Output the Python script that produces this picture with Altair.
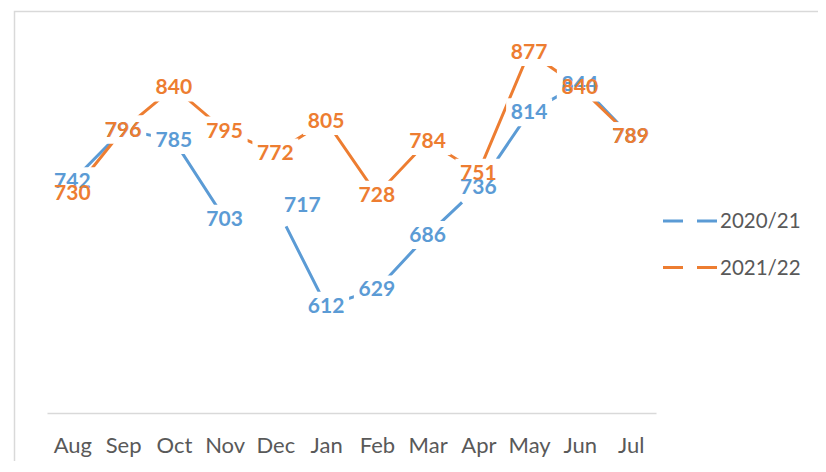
import altair as alt
import pandas as pd

months = ["Aug", "Sep", "Oct", "Nov", "Dec", "Jan", "Feb", "Mar", "Apr", "May", "Jun", "Jul"]
series = ["2020/21", "2021/22"]
values_2020_21 = [742, 796, 785, 703, 717, 612, 629, 686, 736, 814, 844, 789]
values_2021_22 = [730, 796, 840, 795, 772, 805, 728, 784, 751, 877, 840, 789]
colors = ["#5B9BD5", "#ED7D31"]

rows = []
for m, a, b in zip(months, values_2020_21, values_2021_22):
    rows.append({"month": m, "series": series[0], "value": a})
    rows.append({"month": m, "series": series[1], "value": b})
df = pd.DataFrame(rows)

FONT = "Lato"
W, H = 609, 383

x = alt.X(
    "month:N",
    sort=months,
    title=None,
    scale=alt.Scale(type="point", padding=0.5),
    axis=alt.Axis(
        labelAngle=0,
        ticks=False,
        grid=False,
        domainColor="#d9d9d9",
        domainWidth=1.5,
        labelFont=FONT,
        labelFontSize=22,
        labelColor="#595959",
        labelPadding=22,
        labelOverlap=False,
        labelFlush=False,
    ),
)
y = alt.Y("value:Q", scale=alt.Scale(domain=[500, 900]), axis=None)
color = alt.Color("series:N", scale=alt.Scale(domain=series, range=colors), legend=None)

base = alt.Chart(df).encode(x=x, y=y)

line_blue = base.mark_line(
    strokeWidth=3, strokeCap="butt", strokeDash=[264, 56], strokeDashOffset=26
).encode(color=color).transform_filter(f"datum.series == '{series[0]}'")
line_orange = base.mark_line(strokeWidth=3, strokeCap="butt").encode(color=color).transform_filter(
    f"datum.series == '{series[1]}'"
)

is_dec_blue = f"datum.series == '{series[0]}' && datum.month == 'Dec'"

box_path = "M-1.643,-1L1.643,-1L1.643,1L-1.643,1Z"
box_path_shift = "M0.286,-1L3.571,-1L3.571,1L0.286,1Z"

boxes = base.mark_point(
    shape=box_path, filled=True, color="white", opacity=1, size=784, strokeWidth=0
).transform_filter(f"!({is_dec_blue})")
box_dec = base.mark_point(
    shape=box_path_shift, filled=True, color="white", opacity=1, size=784, strokeWidth=0
).transform_filter(is_dec_blue)

txt_kw = dict(font=FONT, fontWeight="bold", fontSize=21, baseline="middle", align="center", dy=1)
blue_text = base.mark_text(**txt_kw).encode(text="value:Q", color=color).transform_filter(
    f"datum.series == '{series[0]}' && datum.month != 'Dec'"
)
blue_dec = base.mark_text(dx=27, **txt_kw).encode(text="value:Q", color=color).transform_filter(is_dec_blue)
orange_text = base.mark_text(**txt_kw).encode(text="value:Q", color=color).transform_filter(
    f"datum.series == '{series[1]}'"
)

# frame
frame = alt.Chart(pd.DataFrame({"k": [0]})).mark_rect(
    fill="transparent", stroke="#d9d9d9", strokeWidth=1.5
).encode(x=alt.value(-32.5), x2=alt.value(800), y=alt.value(-18.5), y2=alt.value(500))

# legend
legend_layers = []
for i, s in enumerate(series):
    ly = 191 + i * 46.5
    ldf = pd.DataFrame({"series": [s]})
    legend_layers.append(
        alt.Chart(ldf).mark_rule(strokeWidth=3, strokeDash=[20, 14], strokeCap="butt", color=colors[i]).encode(
            x=alt.value(616), x2=alt.value(671), y=alt.value(ly)
        )
    )
    legend_layers.append(
        alt.Chart(ldf).mark_text(font=FONT, fontSize=20.5, color="#595959", align="left", baseline="middle", dy=1).encode(
            x=alt.value(673), y=alt.value(ly), text="series:N"
        )
    )

chart = alt.layer(
    frame, line_blue, line_orange, boxes, box_dec, blue_text, blue_dec, orange_text, *legend_layers
).properties(
    width=W,
    height=H,
    autosize=alt.AutoSizeParams(type="none"),
    padding={"left": 39, "top": 22, "right": 162, "bottom": 48},
).configure_view(stroke=None)

chart.save("out.html", embed_options={"renderer": "svg", "actions": False})
